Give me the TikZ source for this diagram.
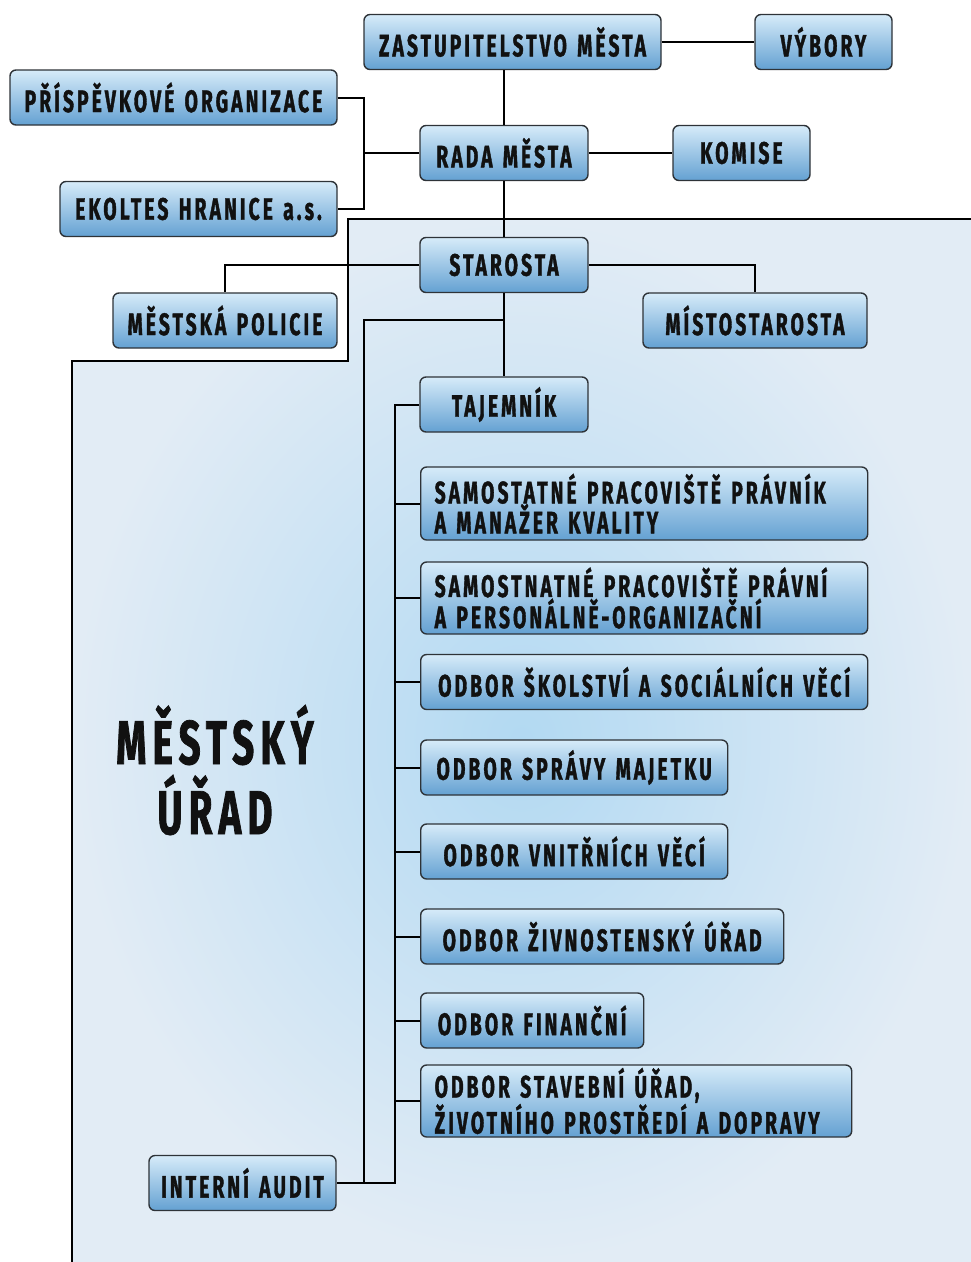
\documentclass[tikz,border=0pt]{standalone}
\usepackage{fontspec}
\newfontfamily\cfont{Fira Sans}[FakeStretch=0.62, LetterSpace=10, FakeBold=1.2, WordSpace=1.35]
\definecolor{boxline}{HTML}{2E3338}
\definecolor{boxtop}{HTML}{D6EBF9}
\definecolor{boxbot}{HTML}{64A1D2}
\definecolor{bgin}{HTML}{B2D9F2}
\definecolor{bgout}{HTML}{E2ECF5}
\definecolor{textc}{HTML}{111111}
\begin{document}
\begin{tikzpicture}[x=1pt,y=-1pt,
  box/.style={draw=boxline, line width=1.4pt, rounded corners=6pt,
    top color=boxtop, bottom color=boxbot,
    font=\cfont\bfseries\fontsize{31}{30}\selectfont, text=textc,
    inner sep=0pt, minimum height=55pt, align=center},
  wbox/.style={box, align=left, inner xsep=14pt, text width=#1},
  conn/.style={line width=2pt, black}]
\useasboundingbox (0,0) rectangle (971,1262);
% background region
\path[inner color=bgin, outer color=bgout]
  (971,219) -- (348,219) -- (348,361) -- (72,361) -- (72,1262) -- (971,1262) -- cycle;
\draw[line width=2.5pt, black] (971,219) -- (348,219) -- (348,361) -- (72,361) -- (72,1262);
\node[font=\cfont\bfseries\fontsize{62}{70}\selectfont, text=textc, align=center] (mu) at (215,770) {MĚSTSKÝ\\ÚŘAD};

% boxes
\node[box, minimum width=297pt] (zm) at (512.5,42) {ZASTUPITELSTVO MĚSTA};
\node[box, minimum width=137pt] (vyb) at (823.5,42) {VÝBORY};
\node[box, minimum width=327pt] (pro) at (173.5,97.5) {PŘÍSPĚVKOVÉ ORGANIZACE};
\node[box, minimum width=168pt] (rada) at (504,153) {RADA MĚSTA};
\node[box, minimum width=137pt] (kom) at (741.5,153) {KOMISE};
\node[box, minimum width=277pt] (eko) at (198.5,209) {EKOLTES HRANICE a.s.};
\node[box, minimum width=168pt] (sta) at (504,265) {STAROSTA};
\node[box, minimum width=224pt] (mp) at (225,320.5) {MĚSTSKÁ POLICIE};
\node[box, minimum width=224pt] (mis) at (755,320.5) {MÍSTOSTAROSTA};
\node[box, minimum width=168pt] (taj) at (504,404.5) {TAJEMNÍK};
\node[wbox=419pt, minimum height=73pt, anchor=west] (s1) at (420,503.5) {SAMOSTATNÉ PRACOVIŠTĚ PRÁVNÍK\\A MANAŽER KVALITY};
\node[wbox=419pt, minimum height=72pt, anchor=west] (s2) at (420,598) {SAMOSTNATNÉ PRACOVIŠTĚ PRÁVNÍ\\A PERSONÁLNĚ-ORGANIZAČNÍ};
\node[box, minimum width=447pt, anchor=west] (o1) at (420,682) {ODBOR ŠKOLSTVÍ A SOCIÁLNÍCH VĚCÍ};
\node[box, minimum width=307pt, anchor=west] (o2) at (420,767.5) {ODBOR SPRÁVY MAJETKU};
\node[box, minimum width=307pt, anchor=west] (o3) at (420,851.5) {ODBOR VNITŘNÍCH VĚCÍ};
\node[box, minimum width=363pt, anchor=west] (o4) at (420,936.5) {ODBOR ŽIVNOSTENSKÝ ÚŘAD};
\node[box, minimum width=223pt, anchor=west] (o5) at (420,1020.5) {ODBOR FINANČNÍ};
\node[wbox=403pt, minimum height=72pt, anchor=west] (o6) at (420,1101) {ODBOR STAVEBNÍ ÚŘAD,\\ŽIVOTNÍHO PROSTŘEDÍ A DOPRAVY};
\node[box, minimum width=187pt] (ia) at (242.5,1183) {INTERNÍ AUDIT};

% helper coordinates
\coordinate (jl) at (364,153);
\coordinate (j2) at (504,320);
\coordinate (ja) at (364,320);
\coordinate (bus) at (395,404.5);

% connectors
\draw[conn] (zm.east) -- (vyb.west);
\draw[conn] (rada.north |- zm.south) -- (rada.north);
\draw[conn] (rada.east) -- (kom.west);
\draw[conn] (pro.east) -| (jl) |- (eko.east);
\draw[conn] (jl) -- (rada.west);
\draw[conn] (rada.south) -- (sta.north);
\draw[conn] (sta.west) -| (mp.north);
\draw[conn] (sta.east) -| (mis.north);
\draw[conn] (sta.south) -- (taj.north);
\draw[conn] (j2) -- (ja) |- (ia.east);
\draw[conn] (taj.west) -- (bus) |- (ia.east);
\foreach \n in {s1,s2,o1,o2,o3,o4,o5,o6}
  \draw[conn] (\n.west) -- (\n.west -| bus);
\end{tikzpicture}
\end{document}
